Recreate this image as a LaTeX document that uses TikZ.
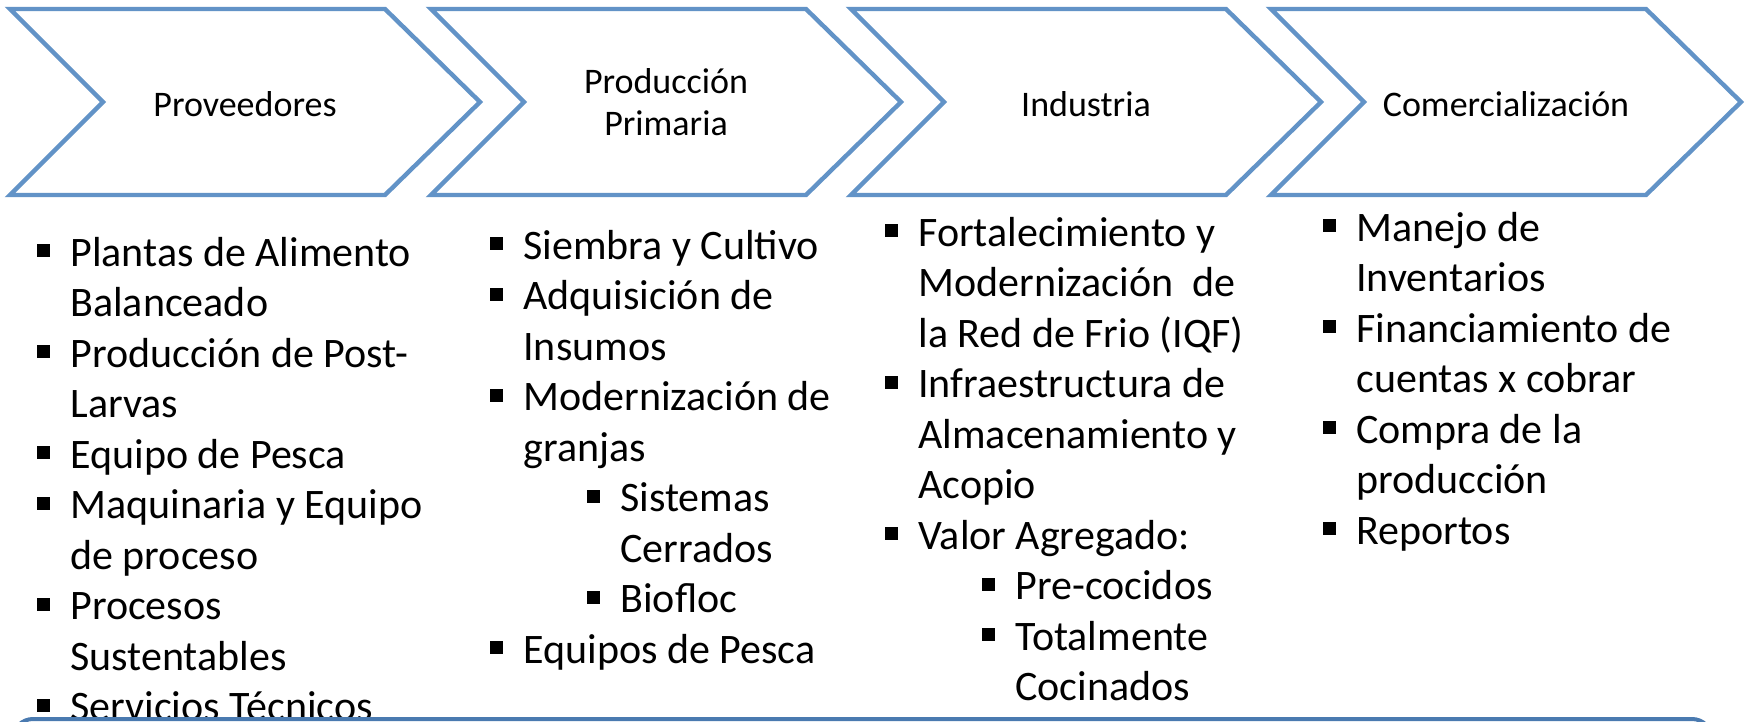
\documentclass[tikz,border=0pt]{standalone}
\usepackage{fontspec}
\setmainfont{Carlito}
\usetikzlibrary{positioning}
\definecolor{chevblue}{RGB}{98,147,199}
\definecolor{barblue}{RGB}{74,122,176}
\newcommand{\colstrut}{\rule{0pt}{20pt}}
\newcommand{\bul}{\makebox[16.5pt][l]{\rule[4.5pt]{6.5pt}{6.5pt}}}
\newcommand{\ind}{\hspace*{16.5pt}}
\newcommand{\subbul}{\hspace*{48.5pt}\bul}
\newcommand{\subind}{\hspace*{65pt}}

\begin{document}
\begin{tikzpicture}[
    x=0.5pt, y=-0.5pt,
    chevron/.style={draw=chevblue, line width=2.2pt, fill=white},
    headtext/.style={align=center, inner sep=0pt, font=\fontsize{18pt}{21pt}\selectfont},
    listcol/.style={align=left, inner sep=0pt, anchor=north west, font=\fontsize{21pt}{25.25pt}\selectfont}
]
\useasboundingbox (0,0) rectangle (1746,722);

% Chevrons
\foreach \x in {10,431,851,1271}
  \draw[chevron] (\x,9) -- (\x+375,9) -- (\x+470,102) -- (\x+375,195) -- (\x,195) -- (\x+93,102) -- cycle;

% Stage names
\node[headtext] (prov) at (245,104) {Proveedores};
\node[headtext] (prim) at (666,102) {Producción\\Primaria};
\node[headtext] (ind) at (1086,104) {Industria};
\node[headtext] (com) at (1506,104) {Comercialización};

% Lists
\node[listcol] (provlist) at (37,226) {\colstrut\bul Plantas de Alimento\\
  \ind Balanceado\\
  \bul Producción de Post-\\
  \ind Larvas\\
  \bul Equipo de Pesca\\
  \bul Maquinaria y Equipo\\
  \ind de proceso\\
  \bul Procesos\\
  \ind Sustentables\\
  \bul Servicios Técnicos};

\node[listcol] (primlist) at (490,219) {\colstrut\bul Siembra y Cultivo\\
  \bul Adquisición de\\
  \ind Insumos\\
  \bul Modernización de\\
  \ind granjas\\
  \subbul Sistemas\\
  \subind Cerrados\\
  \subbul Biofloc\\
  \bul Equipos de Pesca};

\node[listcol] (indlist) at (885,206) {\colstrut\bul Fortalecimiento y\\
  \ind Modernización\ \ de\\
  \ind la Red de Frio (IQF)\\
  \bul Infraestructura de\\
  \ind Almacenamiento y\\
  \ind Acopio\\
  \bul Valor Agregado:\\
  \subbul Pre-cocidos\\
  \subbul Totalmente\\
  \subind Cocinados};

\node[listcol] (comlist) at (1323,201) {\colstrut\bul Manejo de\\
  \ind Inventarios\\
  \bul Financiamiento de\\
  \ind cuentas x cobrar\\
  \bul Compra de la\\
  \ind producción\\
  \bul Reportos};

% Bottom bar
\draw[draw=barblue, line width=2pt, fill=white, rounded corners=10pt] (13,719) rectangle (1712,790);

\end{tikzpicture}
\end{document}
